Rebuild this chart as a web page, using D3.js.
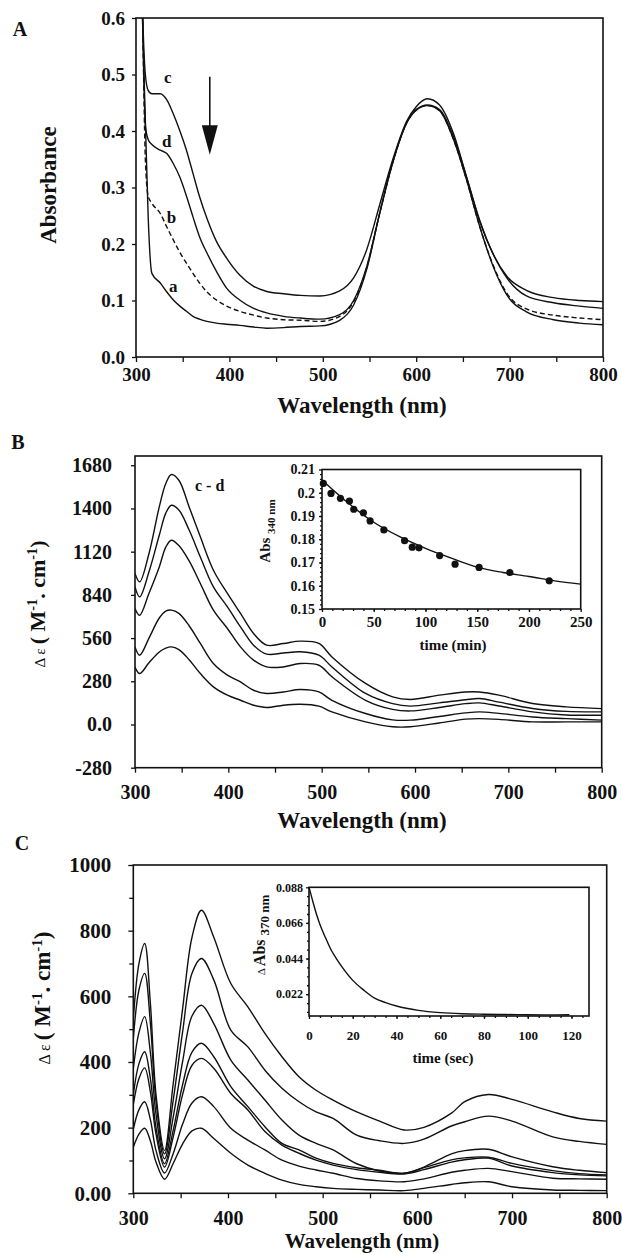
<!DOCTYPE html>
<html>
<head>
<meta charset="utf-8">
<script src="https://cdn.jsdelivr.net/npm/d3@7"></script>
<style>
  body { margin: 0; background: #fff; }
  svg text { font-family: "Liberation Serif", "Times New Roman", serif; font-weight: bold; fill: #111; }
  .tick line { stroke: #111; stroke-width: 1.3; }
  .domain { display: none; }
  .frame { fill: none; stroke: #111; stroke-width: 1.6; }
  .curve { fill: none; stroke: #111; stroke-width: 1.4; }
</style>
</head>
<body>
<div id="figure"></div>
<script>
// ---------------- Data ----------------
// Panel A: absorbance spectra a-d
var wavelengthA = [300, 304, 307, 310, 313, 317, 326, 333, 340, 347, 354, 361, 368, 376, 386, 397, 411, 426, 440, 458,
                   476, 497, 518, 533, 547, 561, 575, 590, 600, 612, 625, 640, 654, 668, 683, 697, 718, 747, 775, 800];
var absA_a = [1.5, 0.9, 0.6, 0.42, 0.25, 0.148, 0.131, 0.115, 0.101, 0.09, 0.081, 0.072, 0.067, 0.063, 0.06, 0.058, 0.056, 0.053, 0.051, 0.052,
              0.054, 0.055, 0.065, 0.092, 0.155, 0.255, 0.345, 0.415, 0.437, 0.445, 0.436, 0.385, 0.313, 0.231, 0.158, 0.11, 0.08, 0.066, 0.06, 0.057];
var absA_b = [1.5, 0.8, 0.6, 0.35, 0.285, 0.272, 0.254, 0.23, 0.207, 0.185, 0.166, 0.148, 0.131, 0.115, 0.101, 0.09, 0.081, 0.074, 0.069, 0.066,
              0.065, 0.063, 0.072, 0.098, 0.158, 0.255, 0.345, 0.415, 0.437, 0.445, 0.436, 0.385, 0.313, 0.231, 0.16, 0.113, 0.085, 0.074, 0.069, 0.066];
var absA_c = [1.5, 0.9, 0.62, 0.5, 0.472, 0.466, 0.466, 0.455, 0.43, 0.4, 0.366, 0.325, 0.284, 0.245, 0.205, 0.175, 0.145, 0.125, 0.116, 0.112,
              0.109, 0.108, 0.117, 0.14, 0.19, 0.27, 0.35, 0.418, 0.443, 0.457, 0.446, 0.395, 0.318, 0.242, 0.18, 0.143, 0.118, 0.105, 0.1, 0.098];
var absA_d = [1.5, 0.85, 0.6, 0.41, 0.385, 0.376, 0.366, 0.36, 0.342, 0.318, 0.285, 0.248, 0.213, 0.184, 0.152, 0.122, 0.101, 0.086, 0.078, 0.072,
              0.069, 0.067, 0.075, 0.1, 0.16, 0.255, 0.345, 0.415, 0.438, 0.446, 0.438, 0.39, 0.318, 0.24, 0.18, 0.14, 0.108, 0.096, 0.09, 0.086];
var yTicksA = [0, 0.1, 0.2, 0.3, 0.4, 0.5, 0.6];

// Panel B: difference spectra c - d
var wavelengthB = [300, 305, 315, 326, 333, 339, 347, 358, 370, 384, 399, 413, 427, 441, 459, 477, 497, 511, 547, 576,
                   595, 626, 654, 669, 690, 726, 762, 800];
var deltaB1 = [978, 924, 1108, 1410, 1562, 1620, 1583, 1410, 1216, 1000, 849, 720, 590, 514, 525, 540, 525, 438, 266, 179,
               162, 190, 211, 211, 190, 136, 114, 103];
var deltaB2 = [892, 827, 990, 1226, 1370, 1421, 1390, 1260, 1086, 892, 762, 633, 514, 456, 463, 471, 449, 373, 201, 135,
               119, 140, 160, 168, 145, 104, 85, 82];
var deltaB3 = [752, 708, 850, 1021, 1150, 1194, 1160, 1060, 914, 741, 622, 503, 417, 373, 373, 395, 384, 309, 157, 98,
               88, 110, 135, 140, 120, 82, 62, 60];
var deltaB4 = [503, 449, 560, 690, 735, 741, 720, 640, 525, 395, 320, 276, 222, 201, 211, 227, 211, 157, 71, 30,
               28, 52, 75, 82, 72, 49, 38, 28];
var deltaB5 = [373, 330, 400, 470, 495, 503, 485, 420, 330, 244, 190, 157, 125, 110, 125, 131, 119, 82, 17, -15,
               -15, 10, 35, 38, 33, 17, 17, 17];
var yTicksB = [-280, 0, 280, 560, 840, 1120, 1400, 1680];
var yTickLabelsB = ["-280", "0.0", "280", "560", "840", "1120", "1400", "1680"];

// Panel B inset: Abs 340 nm vs time
var timeMin = [1.3, 8.7, 17.8, 26.5, 30.7, 40, 46.5, 59.8, 79.8, 87.2, 93.7, 113.7, 128.6, 151.8, 181.5, 219.6];
var abs340 = [0.204, 0.1997, 0.1976, 0.1964, 0.1929, 0.1914, 0.1879, 0.184, 0.1794, 0.1766, 0.1763, 0.173, 0.1693, 0.1679, 0.1657, 0.1621];
var fitTime = [0, 25, 50, 75, 100, 125, 150, 175, 200, 225, 250];
var fitAbs = [0.2055, 0.1957, 0.1873, 0.1811, 0.1761, 0.1719, 0.168, 0.1657, 0.164, 0.1621, 0.1607];
var insetTicksB = [0.15, 0.16, 0.17, 0.18, 0.19, 0.2, 0.21];
var insetTickLabelsB = ["0.15", "0.16", "0.17", "0.18", "0.19", "0.2", "0.21"];

// Panel C: difference spectra
var wavelengthC = [300, 306, 312, 318, 324, 333, 342, 352, 362, 372, 385, 403, 421, 439, 457, 475, 493, 511, 536, 560,
                   586, 607, 636, 650, 675, 700, 743, 771, 800];
var deltaC1 = [530, 700, 761, 580, 300, 130, 330, 560, 780, 862, 780, 639, 568, 487, 416, 355, 314, 284, 248, 220,
               193, 201, 244, 279, 301, 286, 248, 228, 220];
var deltaC2 = [470, 620, 670, 520, 280, 120, 280, 490, 670, 715, 650, 497, 446, 375, 320, 279, 248, 228, 177, 160,
               152, 165, 205, 218, 235, 220, 172, 158, 149];
var deltaC3 = [380, 490, 538, 430, 240, 105, 230, 400, 540, 573, 517, 406, 345, 284, 223, 177, 152, 132, 90, 68,
               61, 80, 120, 130, 134, 111, 81, 70, 63];
var deltaC4 = [300, 395, 431, 350, 200, 90, 190, 330, 430, 457, 416, 325, 264, 203, 152, 132, 107, 91, 78, 70,
               61, 78, 102, 108, 110, 91, 69, 60, 56];
var deltaC5 = [270, 350, 382, 310, 180, 80, 170, 300, 390, 411, 381, 304, 254, 188, 147, 122, 101, 86, 72, 64,
               59, 72, 95, 102, 107, 83, 63, 56, 53];
var deltaC6 = [195, 255, 279, 225, 130, 62, 120, 210, 275, 294, 264, 198, 162, 132, 101, 83, 71, 61, 45, 38,
               35, 44, 64, 70, 76, 66, 46, 44, 43];
var deltaC7 = [140, 180, 198, 160, 95, 43, 90, 150, 190, 198, 167, 122, 86, 61, 40, 27, 20, 15, 12, 10,
               8, 15, 27, 32, 35, 20, 10, 9, 8];
var yTicksC = [0, 200, 400, 600, 800, 1000];
var yTickLabelsC = ["0.00", "200", "400", "600", "800", "1000"];

// Panel C inset: delta Abs 370 nm vs time
var timeSec = [0, 1, 2, 3.5, 5, 7.5, 10, 12.5, 15, 20, 25, 30, 35, 40, 50, 60, 70, 80, 90, 100, 110, 119];
var dAbs370 = [0.088, 0.083, 0.078, 0.071, 0.065, 0.057, 0.0496, 0.044, 0.039, 0.0305, 0.0245, 0.0195, 0.0168, 0.0147, 0.012, 0.0106,
               0.0099, 0.0096, 0.0094, 0.0093, 0.0092, 0.0093];
var insetTicksC = [0.022, 0.044, 0.066, 0.088];
var insetTickLabelsC = ["0.022", "0.044", "0.066", "0.088"];

var xTicksNm = d3.range(300, 801, 50);

// ---------------- Chart ----------------
var svg = d3.select("#figure")
  .append("svg")
  .attr("width", 622)
  .attr("height", 1254);

svg.append("rect").attr("width", 622).attr("height", 1254).attr("fill", "#fff");

var defs = svg.append("defs");

function addClip(id, x, y) {
  var r = [x.range()[0], y.range()[1], x.range()[1] - x.range()[0], y.range()[0] - y.range()[1]];
  defs.append("clipPath").attr("id", id).append("rect")
    .attr("x", r[0]).attr("y", r[1]).attr("width", r[2]).attr("height", r[3]);
  svg.append("rect").attr("class", "frame")
    .attr("x", r[0]).attr("y", r[1]).attr("width", r[2]).attr("height", r[3]);
}

function drawCurves(xs, series, x, y, clipId, curveType) {
  var line = d3.line()
    .x((d, i) => x(xs[i]))
    .y(d => y(d))
    .curve(curveType);
  return svg.append("g").attr("clip-path", `url(#${clipId})`)
    .selectAll("path")
    .data(series)
    .enter()
    .append("path")
    .attr("class", "curve")
    .attr("d", d => line(d));
}

function deltaTitle(cx, cy, size) {
  var t = svg.append("text")
    .attr("transform", `translate(${cx},${cy}) rotate(-90)`)
    .attr("text-anchor", "middle")
    .attr("dy", "0.35em")
    .attr("font-size", size);
  t.append("tspan").attr("font-size", size * 0.7).attr("font-weight", "normal").text("\u0394 \u03b5 ");
  t.append("tspan").text("( M");
  t.append("tspan").attr("dy", -8).attr("font-size", size * 0.65).text("-1");
  t.append("tspan").attr("dy", 8).text(". cm");
  t.append("tspan").attr("dy", -8).attr("font-size", size * 0.65).text("-1");
  t.append("tspan").attr("dy", 8).text(")");
}

// ===== Panel A =====
var xA = d3.scaleLinear().domain([300, 800]).range([136, 603]);
var yA = d3.scaleLinear().domain([0, 0.6]).range([357, 18]);
addClip("clipA", xA, yA);

svg.append("g")
  .attr("transform", "translate(0,357)")
  .call(d3.axisBottom(xA).tickValues(xTicksNm).tickSize(5).tickPadding(6)
    .tickFormat(d => d % 100 === 0 ? d : ""))
  .attr("font-size", 19);

svg.append("g")
  .attr("transform", "translate(136,0)")
  .call(d3.axisLeft(yA).tickValues(yTicksA).tickSize(4).tickPadding(7).tickFormat(d3.format(".1f")))
  .attr("font-size", 19);

var curvesA = drawCurves(wavelengthA, [absA_a, absA_b, absA_c, absA_d], xA, yA, "clipA", d3.curveMonotoneX);
curvesA.filter((d, i) => i === 1).attr("stroke-dasharray", "5,3");

// curve letters
var lettersA = [["c", 334, 0.496], ["d", 333, 0.383], ["b", 338, 0.248], ["a", 340, 0.125]];
svg.selectAll(".letterA")
  .data(lettersA)
  .enter()
  .append("text")
  .attr("x", d => xA(d[1]))
  .attr("y", d => yA(d[2]))
  .attr("dy", "0.35em")
  .attr("text-anchor", "middle")
  .attr("font-size", 17)
  .text(d => d[0]);

// arrow
svg.append("line")
  .attr("x1", xA(379)).attr("x2", xA(379))
  .attr("y1", yA(0.496)).attr("y2", yA(0.4))
  .attr("stroke", "#111").attr("stroke-width", 1.6);
svg.append("path")
  .attr("d", `M${xA(379) - 8},${yA(0.41)} L${xA(379) + 8},${yA(0.41)} L${xA(379)},${yA(0.358)} Z`)
  .attr("fill", "#111");

svg.append("text").attr("x", 20).attr("y", 36).attr("text-anchor", "middle").attr("font-size", 20).text("A");
svg.append("text")
  .attr("transform", "translate(48,185) rotate(-90)")
  .attr("text-anchor", "middle").attr("dy", "0.35em")
  .attr("font-size", 23)
  .text("Absorbance");
svg.append("text").attr("x", 362).attr("y", 405).attr("dy", "0.35em")
  .attr("text-anchor", "middle").attr("font-size", 23).text("Wavelength (nm)");

// ===== Panel B =====
var xB = d3.scaleLinear().domain([300, 800]).range([135, 601.7]);
var yB = d3.scaleLinear().domain([-280, 1740]).range([767.7, 456]);
addClip("clipB", xB, yB);

svg.append("g")
  .attr("transform", "translate(0,767.7)")
  .call(d3.axisBottom(xB).tickValues(xTicksNm).tickSize(5).tickPadding(12)
    .tickFormat(d => d % 100 === 0 ? d : ""))
  .attr("font-size", 20);

svg.append("g")
  .attr("transform", "translate(135,0)")
  .call(d3.axisLeft(yB).tickValues(yTicksB).tickSize(4).tickPadding(19)
    .tickFormat((d, i) => yTickLabelsB[i]))
  .attr("font-size", 20);

drawCurves(wavelengthB, [deltaB1, deltaB2, deltaB3, deltaB4, deltaB5], xB, yB, "clipB", d3.curveCatmullRom.alpha(0.5));

svg.append("text").attr("x", 195).attr("y", 485).attr("dy", "0.35em")
  .attr("font-size", 16).text("c - d");

svg.append("text").attr("x", 18).attr("y", 449).attr("text-anchor", "middle").attr("font-size", 20).text("B");
deltaTitle(37, 604, 22);
svg.append("text").attr("x", 362).attr("y", 820).attr("dy", "0.35em")
  .attr("text-anchor", "middle").attr("font-size", 23).text("Wavelength (nm)");

// Panel B inset
var xBi = d3.scaleLinear().domain([0, 250]).range([322, 580.7]);
var yBi = d3.scaleLinear().domain([0.15, 0.21]).range([609, 469.5]);
svg.append("rect").attr("class", "frame").attr("stroke-width", 1.3)
  .attr("x", 322).attr("y", 469.5).attr("width", 258.7).attr("height", 139.5);

svg.append("g")
  .attr("transform", "translate(0,609)")
  .call(d3.axisBottom(xBi).tickValues(d3.range(0, 251, 50)).tickSize(3).tickPadding(4))
  .attr("font-size", 15);
svg.append("g")
  .attr("transform", "translate(0,609)")
  .call(d3.axisBottom(xBi).tickValues(d3.range(10, 250, 10)).tickSize(2).tickFormat(""));
svg.append("g")
  .attr("transform", "translate(322,0)")
  .call(d3.axisLeft(yBi).tickValues(insetTicksB).tickSize(3).tickPadding(4)
    .tickFormat((d, i) => insetTickLabelsB[i]))
  .attr("font-size", 14);
svg.append("g")
  .attr("transform", "translate(322,0)")
  .call(d3.axisLeft(yBi).tickValues(d3.range(0.152, 0.21, 0.002)).tickSize(2).tickFormat(""));

svg.append("path")
  .attr("class", "curve")
  .attr("d", d3.line().x((d, i) => xBi(fitTime[i])).y(d => yBi(d)).curve(d3.curveMonotoneX)(fitAbs));

svg.selectAll(".dotB")
  .data(abs340)
  .enter()
  .append("circle")
  .attr("cx", (d, i) => xBi(timeMin[i]))
  .attr("cy", d => yBi(d))
  .attr("r", 3.6)
  .attr("fill", "#111");

svg.append("text").attr("x", 453).attr("y", 645).attr("dy", "0.35em")
  .attr("text-anchor", "middle").attr("font-size", 15).text("time (min)");
var absLabelB = svg.append("text")
  .attr("transform", "translate(270,531) rotate(-90)")
  .attr("text-anchor", "middle").attr("font-size", 15);
absLabelB.append("tspan").text("Abs ");
absLabelB.append("tspan").attr("dy", 5).attr("font-size", 11).text("340 nm");

// ===== Panel C =====
var xC = d3.scaleLinear().domain([300, 800]).range([133.3, 606.7]);
var yC = d3.scaleLinear().domain([0, 1000]).range([1193.3, 865]);
addClip("clipC", xC, yC);

svg.append("g")
  .attr("transform", "translate(0,1193.3)")
  .call(d3.axisBottom(xC).tickValues(xTicksNm).tickSize(5).tickPadding(13)
    .tickFormat(d => d % 100 === 0 ? d : ""))
  .attr("font-size", 20);

svg.append("g")
  .attr("transform", "translate(133.3,0)")
  .call(d3.axisLeft(yC).tickValues(yTicksC).tickSize(5).tickPadding(17)
    .tickFormat((d, i) => yTickLabelsC[i]))
  .attr("font-size", 21);
svg.append("g")
  .attr("transform", "translate(133.3,0)")
  .call(d3.axisLeft(yC).tickValues(d3.range(100, 1000, 200)).tickSize(4).tickFormat(""));

drawCurves(wavelengthC, [deltaC1, deltaC2, deltaC3, deltaC4, deltaC5, deltaC6, deltaC7], xC, yC, "clipC", d3.curveCatmullRom.alpha(0.5));

svg.append("text").attr("x", 22).attr("y", 850).attr("text-anchor", "middle").attr("font-size", 20).text("C");
deltaTitle(42, 998, 23);
svg.append("text").attr("x", 362).attr("y", 1248)
  .attr("text-anchor", "middle").attr("font-size", 21).text("Wavelength (nm)");

// Panel C inset
var xCi = d3.scaleLinear().domain([0, 128]).range([309, 589]);
var yCi = d3.scaleLinear().domain([0.0085, 0.088]).range([1016, 887.3]);
svg.append("rect").attr("class", "frame").attr("stroke-width", 1.3)
  .attr("x", 309).attr("y", 887.3).attr("width", 280).attr("height", 128.7);

svg.append("g")
  .attr("transform", "translate(0,1016)")
  .call(d3.axisBottom(xCi).tickValues(d3.range(0, 121, 20)).tickSize(3).tickPadding(12))
  .attr("font-size", 13);
svg.append("g")
  .attr("transform", "translate(0,1016)")
  .call(d3.axisBottom(xCi).tickValues(d3.range(5, 128, 5)).tickSize(2).tickFormat(""));
svg.append("g")
  .attr("transform", "translate(309,0)")
  .call(d3.axisLeft(yCi).tickValues(insetTicksC).tickSize(3).tickPadding(3)
    .tickFormat((d, i) => insetTickLabelsC[i]))
  .attr("font-size", 12);
svg.append("g")
  .attr("transform", "translate(309,0)")
  .call(d3.axisLeft(yCi).tickValues(d3.range(0.011, 0.088, 0.0055)).tickSize(2).tickFormat(""));

svg.append("path")
  .attr("class", "curve")
  .attr("stroke-width", 1.2)
  .attr("d", d3.line().x((d, i) => xCi(timeSec[i])).y(d => yCi(d)).curve(d3.curveMonotoneX)(dAbs370));

svg.append("text").attr("x", 443).attr("y", 1058).attr("dy", "0.35em")
  .attr("text-anchor", "middle").attr("font-size", 15).text("time (sec)");
var absLabelC = svg.append("text")
  .attr("transform", "translate(265,935) rotate(-90)")
  .attr("text-anchor", "middle").attr("font-size", 16);
absLabelC.append("tspan").attr("font-size", 11).attr("font-weight", "normal").text("\u0394 ");
absLabelC.append("tspan").text("Abs ");
absLabelC.append("tspan").attr("dy", 4).attr("font-size", 13).text("370 nm");
</script>
</body>
</html>
